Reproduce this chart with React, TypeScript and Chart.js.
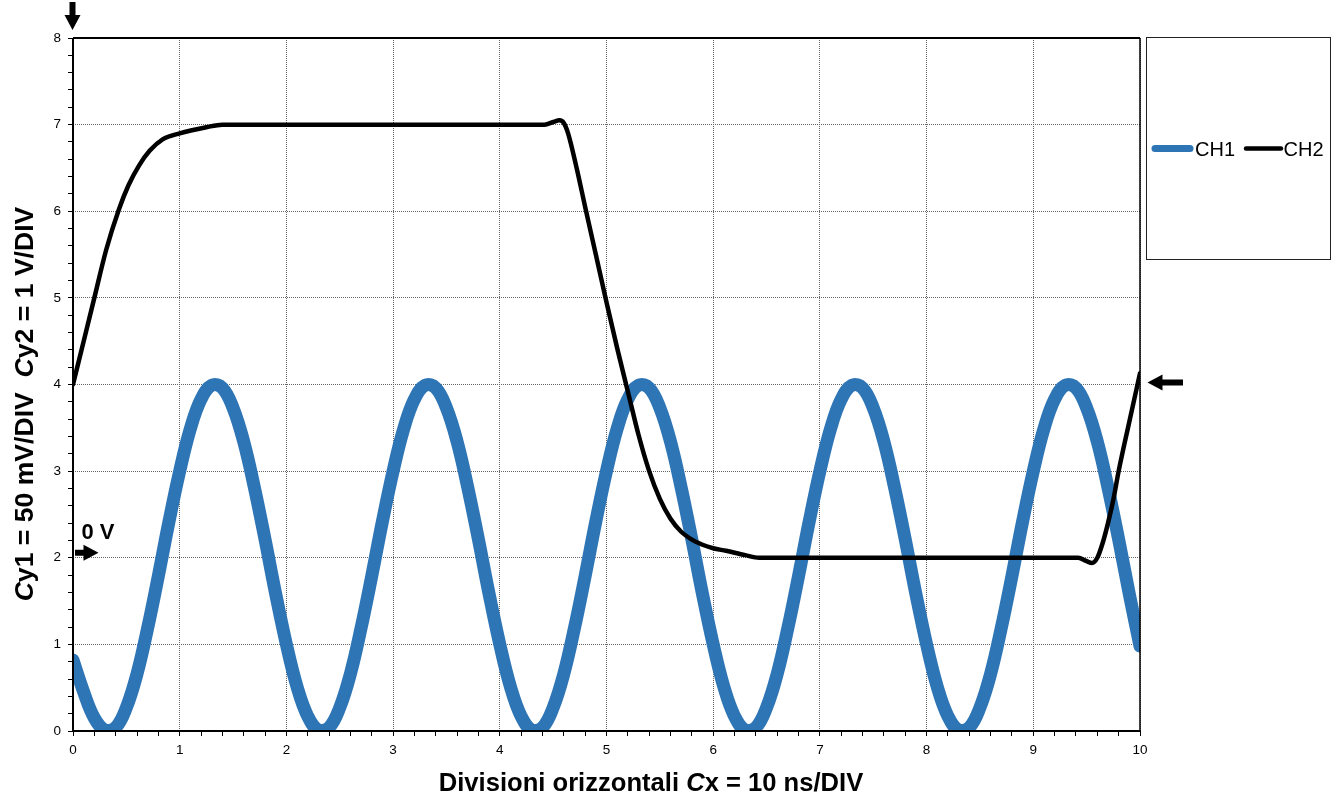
import React, { useEffect, useRef } from "react";
import { Chart, registerables } from "chart.js";

Chart.register(...registerables);

// CH1 samples, one every 0.1 division from 0 to 10
const ch1Step = 0.1;
const ch1Values = [
  0.82, 0.45, 0.15, 0.01, 0.04, 0.27, 0.66, 1.19, 1.79, 2.42, 3.0, 3.49, 3.83, 3.99, 3.96, 3.73, 3.34, 2.81, 2.21, 1.58,
  1.0, 0.51, 0.17, 0.01, 0.04, 0.27, 0.66, 1.19, 1.79, 2.42, 3.0, 3.49, 3.83, 3.99, 3.96, 3.73, 3.34, 2.81, 2.21, 1.58,
  1.0, 0.51, 0.17, 0.01, 0.04, 0.27, 0.66, 1.19, 1.79, 2.42, 3.0, 3.49, 3.83, 3.99, 3.96, 3.73, 3.34, 2.81, 2.21, 1.58,
  1.0, 0.51, 0.17, 0.01, 0.04, 0.27, 0.66, 1.19, 1.79, 2.42, 3.0, 3.49, 3.83, 3.99, 3.96, 3.73, 3.34, 2.81, 2.21, 1.58,
  1.0, 0.51, 0.17, 0.01, 0.04, 0.27, 0.66, 1.19, 1.79, 2.42, 3.0, 3.49, 3.83, 3.99, 3.96, 3.73, 3.34, 2.81, 2.21, 1.58,
  0.98,
];

// CH2 samples (x in divisions, y in divisions)
const ch2X = [
  0, 0.1, 0.2, 0.31, 0.43, 0.52, 0.62, 0.72, 0.84, 1.0, 1.25, 1.4, 1.6,
  4.42, 4.5, 4.56, 4.6, 4.64, 4.72, 4.8, 4.9, 5.0, 5.1, 5.2, 5.3, 5.4, 5.5, 5.6, 5.7, 5.8, 5.9, 6.0, 6.12, 6.3, 6.43, 6.6,
  9.42, 9.5, 9.55, 9.6, 9.65, 9.7, 9.75, 9.8, 9.9, 10,
];
const ch2Y = [
  4.0, 4.5, 5.0, 5.55, 6.02, 6.3, 6.53, 6.7, 6.83, 6.9, 6.97, 7.0, 7.0,
  7.0, 7.03, 7.05, 7.02, 6.9, 6.5, 6.05, 5.5, 4.95, 4.42, 3.92, 3.42, 3.0, 2.68, 2.45, 2.3, 2.21, 2.15, 2.11, 2.08, 2.03, 2.0, 2.0,
  2.0, 1.96, 1.94, 2.0, 2.17, 2.4, 2.67, 3.0, 3.57, 4.13,
];

const seriesNames = ["CH1", "CH2"];
const seriesColors = ["#2E75B6", "#000000"];

const xTitleParts = [
  { t: "Divisioni orizzontali ", i: false },
  { t: "C", i: true },
  { t: "x = 10 ns/DIV", i: false },
];
const yTitleParts = [
  { t: "C", i: true },
  { t: "y1 = 50 mV/DIV  ", i: false },
  { t: "C", i: true },
  { t: "y2 = 1 V/DIV", i: false },
];
const zeroLabel = "0 V";

const FONT = "'Liberation Sans', Arial, sans-serif";
const isInt = (v: number) => Math.abs(v - Math.round(v)) < 1e-6;

function drawMixed(ctx: CanvasRenderingContext2D, parts: { t: string; i: boolean }[], size: number) {
  const fonts = parts.map((p) => `${p.i ? "italic " : ""}bold ${size}px ${FONT}`);
  let total = 0;
  const widths = parts.map((p, k) => {
    ctx.font = fonts[k];
    const w = ctx.measureText(p.t).width;
    total += w;
    return w;
  });
  let x = -total / 2;
  parts.forEach((p, k) => {
    ctx.font = fonts[k];
    ctx.fillText(p.t, x, 0);
    x += widths[k];
  });
}

function drawArrow(ctx: CanvasRenderingContext2D, x1: number, y1: number, x2: number, y2: number) {
  const shaft = 6;
  const headLen = 15;
  const headW = 16;
  const ang = Math.atan2(y2 - y1, x2 - x1);
  const len = Math.hypot(x2 - x1, y2 - y1);
  ctx.save();
  ctx.translate(x1, y1);
  ctx.rotate(ang);
  ctx.fillStyle = "#000";
  ctx.beginPath();
  ctx.moveTo(0, -shaft / 2);
  ctx.lineTo(len - headLen, -shaft / 2);
  ctx.lineTo(len - headLen, -headW / 2);
  ctx.lineTo(len, 0);
  ctx.lineTo(len - headLen, headW / 2);
  ctx.lineTo(len - headLen, shaft / 2);
  ctx.lineTo(0, shaft / 2);
  ctx.closePath();
  ctx.fill();
  ctx.restore();
}

const decorPlugin = {
  id: "decor",
  afterDraw(chart: any) {
    const ctx: CanvasRenderingContext2D = chart.ctx;
    const { left, right, top, bottom } = chart.chartArea;
    const ys = chart.scales.y;
    ctx.save();
    // frame
    ctx.strokeStyle = "#000";
    ctx.lineWidth = 2;
    ctx.beginPath();
    ctx.moveTo(left, top);
    ctx.lineTo(left, bottom);
    ctx.lineTo(right, bottom);
    ctx.moveTo(left, top);
    ctx.lineTo(right, top);
    ctx.stroke();
    ctx.lineWidth = 1.5;
    ctx.beginPath();
    ctx.moveTo(right, top);
    ctx.lineTo(right, bottom);
    ctx.stroke();

    // titles
    ctx.fillStyle = "#000";
    ctx.textAlign = "left";
    ctx.textBaseline = "alphabetic";
    ctx.save();
    ctx.translate(651, 791);
    drawMixed(ctx, xTitleParts, 25.6);
    ctx.restore();
    ctx.save();
    ctx.translate(33, 404);
    ctx.rotate(-Math.PI / 2);
    drawMixed(ctx, yTitleParts, 26.6);
    ctx.restore();

    // arrows
    drawArrow(ctx, left - 0.5, 2, left - 0.5, 30);
    const y4 = ys.getPixelForValue(4) - 2;
    drawArrow(ctx, right + 43, y4, right + 7.5, y4);
    const y2 = ys.getPixelForValue(2) - 5;
    drawArrow(ctx, left + 2, y2, left + 25.5, y2);
    ctx.font = `bold 22px ${FONT}`;
    ctx.fillText(zeroLabel, left + 8.5, y2 - 13.5);

    // legend
    ctx.strokeStyle = "#222";
    ctx.lineWidth = 1;
    ctx.strokeRect(1146.5, 37.5, 184, 222);
    ctx.lineCap = "round";
    const ly = 148.5;
    ctx.font = `20px ${FONT}`;
    ctx.strokeStyle = seriesColors[0];
    ctx.lineWidth = 7;
    ctx.beginPath();
    ctx.moveTo(1155, ly);
    ctx.lineTo(1190, ly);
    ctx.stroke();
    ctx.fillText(seriesNames[0], 1195, 156);
    ctx.strokeStyle = seriesColors[1];
    ctx.lineWidth = 4.5;
    ctx.beginPath();
    ctx.moveTo(1246, ly);
    ctx.lineTo(1281, ly);
    ctx.stroke();
    ctx.fillText(seriesNames[1], 1283.5, 156);
    ctx.restore();
  },
};

export default function App() {
  const canvasRef = useRef<HTMLCanvasElement | null>(null);

  useEffect(() => {
    if (!canvasRef.current) return;
    const ch1Data = ch1Values.map((v, i) => ({ x: i * ch1Step, y: v }));
    const ch2Data = ch2X.map((x, i) => ({ x, y: ch2Y[i] }));

    const gridColor = (c: any) => (c.tick && isInt(c.tick.value) ? "#666" : "rgba(0,0,0,0)");
    const tickFont = { family: FONT, size: 13.5 };

    const chart = new Chart(canvasRef.current, {
      type: "line",
      data: {
        datasets: [
          {
            label: seriesNames[0],
            data: ch1Data,
            borderColor: seriesColors[0],
            backgroundColor: seriesColors[0],
            borderWidth: 13,
            pointRadius: 0,
            tension: 0.4,
            borderCapStyle: "round",
            borderJoinStyle: "round",
            clip: 0,
            order: 2,
          },
          {
            label: seriesNames[1],
            data: ch2Data,
            borderColor: seriesColors[1],
            backgroundColor: seriesColors[1],
            borderWidth: 4.5,
            pointRadius: 0,
            cubicInterpolationMode: "monotone",
            borderCapStyle: "round",
            borderJoinStyle: "round",
            clip: 0,
            order: 1,
          },
        ],
      },
      options: {
        animation: false,
        responsive: true,
        maintainAspectRatio: false,
        layout: { padding: { top: 38, right: 199, left: 0, bottom: 0 } },
        plugins: { legend: { display: false }, tooltip: { enabled: false } },
        scales: {
          x: {
            type: "linear",
            min: 0,
            max: 10,
            ticks: {
              stepSize: 0.2,
              autoSkip: false,
              maxRotation: 0,
              padding: 6,
              color: "#000",
              font: tickFont,
              callback: (v: any) => (isInt(Number(v)) ? String(Math.round(Number(v))) : ""),
            },
            grid: { color: gridColor, lineWidth: 1, drawTicks: true, tickLength: 5, tickColor: "#000", tickWidth: 1 },
            border: { display: false, dash: [1, 1] },
            afterFit: (s: any) => {
              s.height = 65;
            },
          },
          y: {
            type: "linear",
            min: 0,
            max: 8,
            ticks: {
              stepSize: 0.2,
              autoSkip: false,
              padding: 7,
              color: "#000",
              font: tickFont,
              callback: (v: any) => (isInt(Number(v)) ? String(Math.round(Number(v))) : ""),
            },
            grid: { color: gridColor, lineWidth: 1, drawTicks: true, tickLength: 5, tickColor: "#000", tickWidth: 1 },
            border: { display: false, dash: [1, 1] },
            afterFit: (s: any) => {
              s.width = 73;
            },
          },
        },
      } as any,
      plugins: [decorPlugin],
    });
    return () => chart.destroy();
  }, []);

  return (
    <div style={{ position: "absolute", left: 0, top: 0, width: 1339, height: 796, background: "#fff" }}>
      <canvas ref={canvasRef} />
    </div>
  );
}
